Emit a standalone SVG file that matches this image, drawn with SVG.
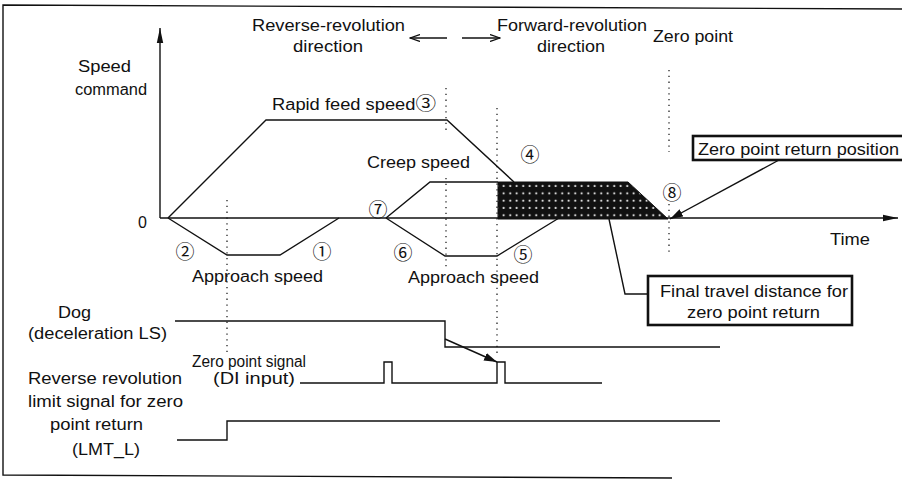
<svg xmlns="http://www.w3.org/2000/svg" width="902" height="481" viewBox="0 0 902 481">
<style>
  .t { font-family: "Liberation Sans", Arial, "Noto Sans CJK JP", sans-serif; font-size: 16px; fill: #111; }
  .c { font-family: "Noto Sans CJK JP", "DejaVu Sans", sans-serif; font-size: 19px; fill: #111; text-anchor: middle; }
  .ln { fill: none; stroke: #111; stroke-width: 1.4; }
  .dot { fill: none; stroke: #222; stroke-width: 1.3; stroke-dasharray: 1.3 4.5; }
  .box { fill: #fff; stroke: #111; stroke-width: 2.6; }
</style>
<defs>
  <marker id="ah" markerUnits="userSpaceOnUse" markerWidth="16" markerHeight="8" refX="15" refY="4" orient="auto">
    <path d="M0,0.8 L15,4 L0,7.2 z" fill="#111"/>
  </marker>
  <marker id="ahs" markerUnits="userSpaceOnUse" markerWidth="14" markerHeight="10" refX="13" refY="5" orient="auto">
    <path d="M0,1 L13,5 L0,9 z" fill="#111"/>
  </marker>
  <marker id="oa" markerUnits="userSpaceOnUse" markerWidth="11" markerHeight="8" refX="10" refY="4" orient="auto">
    <path d="M0,0.5 L10,4 L0,7.5" fill="none" stroke="#111" stroke-width="1.3"/>
  </marker>
  <pattern id="dots" patternUnits="userSpaceOnUse" width="6.5" height="7.3">
    <rect width="6.5" height="7.3" fill="#111"/>
    <circle cx="3.2" cy="3.6" r="1" fill="#fff"/>
  </pattern>
</defs>

<g id="frame">
  <polyline class="ln" points="902,9 3,5 3,475 672,478"/>
</g>

<g id="guides">
  <line class="dot" x1="227" y1="200" x2="227" y2="354"/>
  <line class="dot" x1="446" y1="88" x2="446" y2="132"/>
  <line class="dot" x1="446" y1="178" x2="446" y2="270"/>
  <line class="dot" x1="497" y1="108" x2="497" y2="356"/>
  <line class="dot" x1="669" y1="70" x2="669" y2="152"/>
  <line class="dot" x1="669" y1="204" x2="669" y2="256"/>
</g>

<g id="axes">
  <line class="ln" x1="160" y1="218" x2="160" y2="28" marker-end="url(#ah)"/>
  <line class="ln" x1="160" y1="218" x2="898" y2="218" marker-end="url(#ah)"/>
</g>

<g id="speed-profile">
  <polygon points="498,182 628,182 668,219 498,219" fill="url(#dots)" stroke="#111" stroke-width="1"/>
  <polyline class="ln" points="168,218 266,120 447,120 514,182"/>
  <polyline class="ln" points="168,218 227,255 280,255 339,218"/>
  <polyline class="ln" points="386,218 430,182 498,182"/>
  <polyline class="ln" points="386,218 445,256 497,256 559,218"/>
</g>

<g id="signals">
  <polyline class="ln" points="175,321 445,321 445,347 720,347"/>
  <polyline class="ln" points="300,383 384,383 384,362 392,362 392,383 497,383 497,362 505,362 505,383 602,383"/>
  <polyline class="ln" points="177,440 227,440 227,421 720,421"/>
</g>

<g id="connectors">
  <line class="ln" x1="447" y1="38" x2="410" y2="38" marker-end="url(#oa)"/>
  <line class="ln" x1="462" y1="38" x2="500" y2="38" marker-end="url(#oa)"/>
  <line class="ln" x1="445" y1="339" x2="497" y2="362" marker-end="url(#ahs)"/>
  <line class="ln" x1="779" y1="160" x2="670" y2="219" marker-end="url(#ahs)"/>
  <polyline class="ln" points="609,219 625,294 648,294"/>
</g>

<g id="node-zero-return-position">
  <rect class="box" x="693" y="136" width="214" height="24"/>
  <text class="t" x="698" y="155" textLength="201" lengthAdjust="spacingAndGlyphs">Zero point return position</text>
</g>

<g id="node-final-travel">
  <rect class="box" x="648" y="276" width="204" height="49"/>
  <text class="t" x="660" y="297" textLength="188" lengthAdjust="spacingAndGlyphs">Final travel distance for</text>
  <text class="t" x="687" y="318" textLength="133" lengthAdjust="spacingAndGlyphs">zero point return</text>
</g>

<g id="labels">
  <text class="t" x="252" y="31" textLength="153" lengthAdjust="spacingAndGlyphs">Reverse-revolution</text>
  <text class="t" x="293" y="52" textLength="70" lengthAdjust="spacingAndGlyphs">direction</text>
  <text class="t" x="497" y="31" textLength="150" lengthAdjust="spacingAndGlyphs">Forward-revolution</text>
  <text class="t" x="537" y="52" textLength="68" lengthAdjust="spacingAndGlyphs">direction</text>
  <text class="t" x="653" y="42" textLength="80" lengthAdjust="spacingAndGlyphs">Zero point</text>
  <text class="t" x="78" y="72" textLength="53" lengthAdjust="spacingAndGlyphs">Speed</text>
  <text class="t" x="75" y="95" textLength="72" lengthAdjust="spacingAndGlyphs">command</text>
  <text class="t" x="138" y="228">0</text>
  <text class="t" x="272" y="110" textLength="164" lengthAdjust="spacingAndGlyphs">Rapid feed speed<tspan style="font-family:'Noto Sans CJK JP',sans-serif;font-size:18px">③</tspan></text>
  <text class="t" x="367" y="168" textLength="103" lengthAdjust="spacingAndGlyphs">Creep speed</text>
  <text class="t" x="830" y="245" textLength="40" lengthAdjust="spacingAndGlyphs">Time</text>
  <text class="t" x="192" y="282" textLength="131" lengthAdjust="spacingAndGlyphs">Approach speed</text>
  <text class="t" x="408" y="283" textLength="131" lengthAdjust="spacingAndGlyphs">Approach speed</text>
  <text class="t" x="58" y="318" textLength="33" lengthAdjust="spacingAndGlyphs">Dog</text>
  <text class="t" x="28" y="339" textLength="139" lengthAdjust="spacingAndGlyphs">(deceleration LS)</text>
  <text class="t" x="192" y="367" textLength="114" lengthAdjust="spacingAndGlyphs">Zero point signal</text>
  <text class="t" x="213" y="384" textLength="82" lengthAdjust="spacingAndGlyphs">(DI input)</text>
  <text class="t" x="28" y="384" textLength="154" lengthAdjust="spacingAndGlyphs">Reverse revolution</text>
  <text class="t" x="28" y="407" textLength="155" lengthAdjust="spacingAndGlyphs">limit signal for zero</text>
  <text class="t" x="50" y="430" textLength="93" lengthAdjust="spacingAndGlyphs">point return</text>
  <text class="t" x="72" y="455" textLength="68" lengthAdjust="spacingAndGlyphs">(LMT_L)</text>
  <text class="c" x="322" y="259">①</text>
  <text class="c" x="185" y="259">②</text>
  <text class="c" x="530" y="162">④</text>
  <text class="c" x="523" y="262">⑤</text>
  <text class="c" x="403" y="260">⑥</text>
  <text class="c" x="378" y="217">⑦</text>
  <text class="c" x="672" y="200">⑧</text>
</g>
</svg>
